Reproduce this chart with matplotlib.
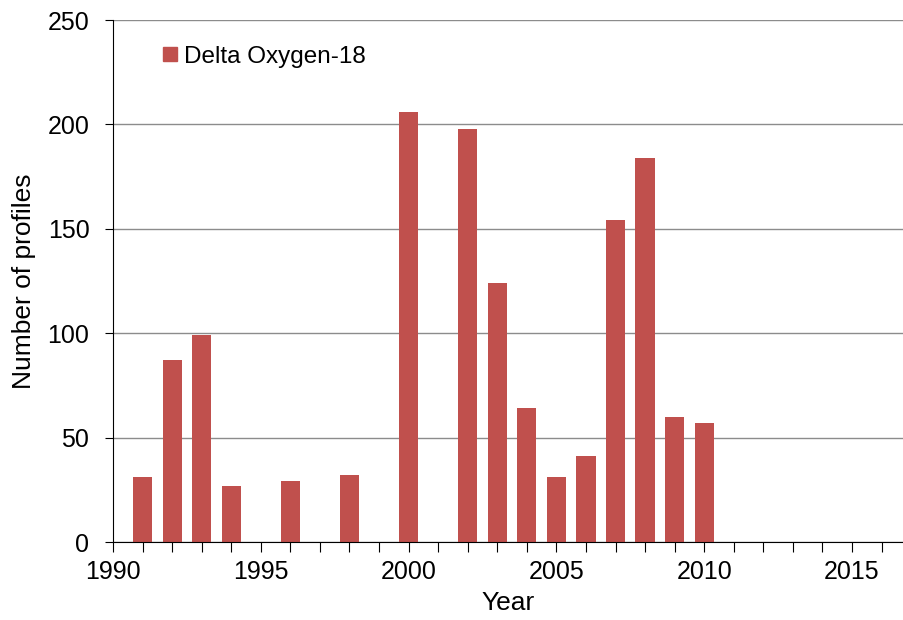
import matplotlib.pyplot as plt
from matplotlib.patches import Patch

years = [1991, 1992, 1993, 1994, 1996, 1998, 2000, 2002, 2003, 2004, 2005, 2006, 2007, 2008, 2009, 2010]
profiles = [31, 87, 99, 27, 29, 32, 206, 198, 124, 64, 31, 41, 154, 184, 60, 57]
series_name = 'Delta Oxygen-18'

plt.rcParams['font.family'] = ['Liberation Sans', 'DejaVu Sans']

fig = plt.figure(figsize=(9.04, 6.2), dpi=100)
ax = fig.add_axes([113 / 904, 78 / 620, 1 - 113 / 904, 522 / 620])

ax.bar(years, profiles, width=0.65, color='#C0504D', zorder=3)

ax.set_xlim(1990, 2016.76)
ax.set_ylim(0, 250)
ax.set_xticks(range(1990, 2017))
ax.set_xticklabels([str(y) if y % 5 == 0 else '' for y in range(1990, 2017)])
ax.set_yticks(range(0, 251, 50))
ax.tick_params(axis='both', labelsize=18, direction='out', color='black')
ax.tick_params(axis='x', length=7, pad=6)
ax.tick_params(axis='y', length=6, pad=11)

ax.grid(axis='y', color='#8c8c8c', linewidth=1, zorder=0)
for s in ['top', 'right']:
    ax.spines[s].set_visible(False)
ax.spines['left'].set_color('black')
ax.spines['bottom'].set_color('black')
ax.spines['left'].set_zorder(4)
ax.spines['bottom'].set_zorder(4)

ax.set_xlabel('Year', fontsize=19, labelpad=5)
ax.set_ylabel('Number of profiles', fontsize=19, labelpad=8)

ax.legend(handles=[Patch(color='#C0504D', label=series_name)], loc='upper left',
          bbox_to_anchor=(0.036, 0.993), frameon=False, fontsize=17.5,
          handlelength=0.55, handleheight=0.55, handletextpad=0.3)

fig.savefig('out.png', dpi=100)
